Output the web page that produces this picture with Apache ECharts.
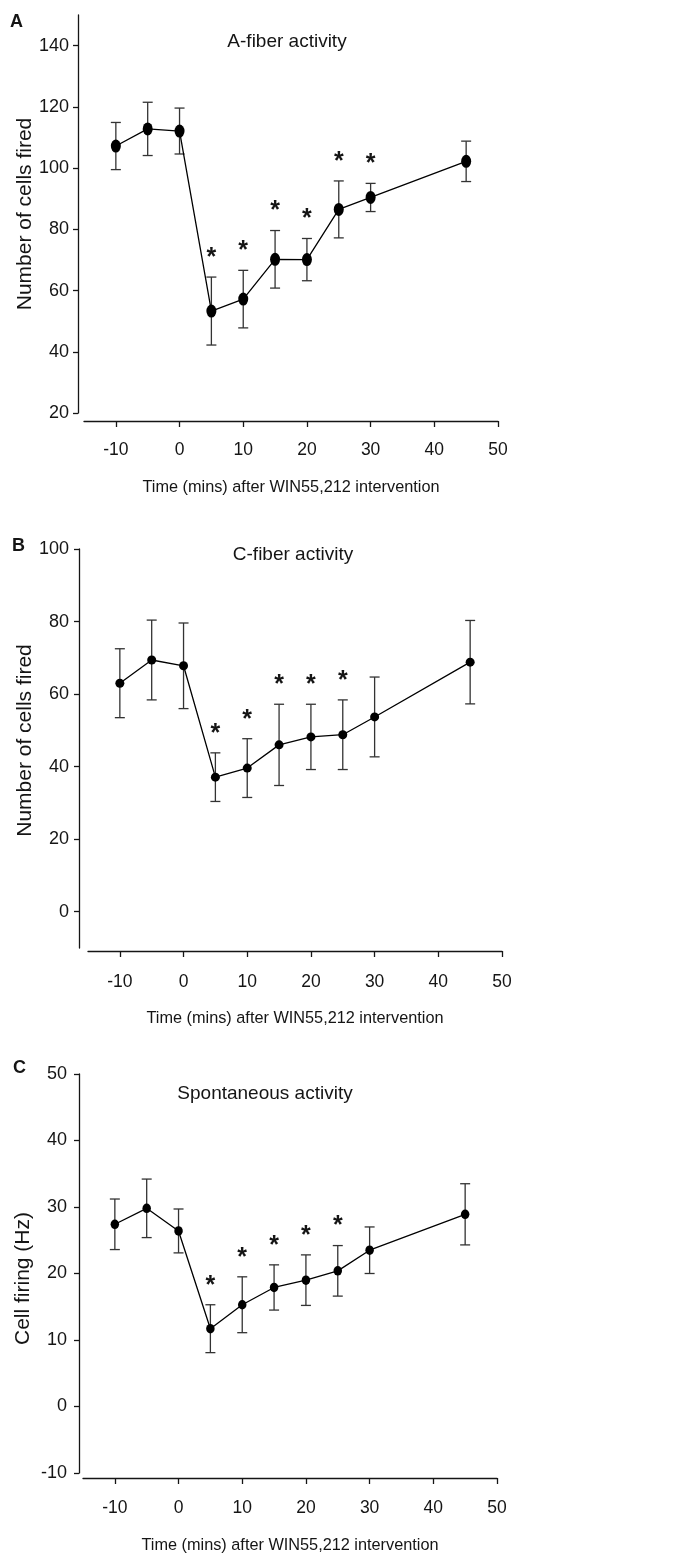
<!DOCTYPE html>
<html>
<head>
<meta charset="utf-8">
<title>WIN55,212 time course</title>
<script src="https://cdn.jsdelivr.net/npm/echarts@6.0.0/dist/echarts.min.js"></script>
<style>
  html, body { margin: 0; padding: 0; background: #fff; }
  #main { width: 700px; height: 1556px; }
</style>
</head>
<body>
<div id="main"></div>
<script>
// time points (mins after WIN55,212)
var times = [-10, -5, 0, 5, 10, 15, 20, 25, 30, 45];
var xTicks = [-10, 0, 10, 20, 30, 40, 50];

// A-fiber
var aMean = [107.2, 112.8, 112.1, 53.3, 57.2, 70.2, 70.1, 86.5, 90.4, 102.2];
var aErr = [7.7, 8.7, 7.5, 11.1, 9.4, 9.4, 6.9, 9.3, 4.6, 6.6];
var aStars = [5, 10, 15, 20, 25, 30];
var aTicks = [20, 40, 60, 80, 100, 120, 140];

// C-fiber
var bMean = [63.0, 69.4, 67.8, 37.1, 39.6, 46.0, 48.2, 48.8, 53.7, 68.8];
var bErr = [9.5, 11.0, 11.8, 6.7, 8.1, 11.2, 9.0, 9.6, 11.0, 11.5];
var bStars = [5, 10, 15, 20, 25];
var bTicks = [0, 20, 40, 60, 80, 100];

// spontaneous
var cMean = [27.4, 29.8, 26.4, 11.7, 15.3, 17.9, 19.0, 20.4, 23.5, 28.9];
var cErr = [3.8, 4.4, 3.3, 3.6, 4.2, 3.4, 3.8, 3.8, 3.5, 4.6];
var cStars = [5, 10, 15, 20, 25];
var cTicks = [-10, 0, 10, 20, 30, 40, 50];

var FONT = '"Liberation Sans", Arial, sans-serif';
var INK = '#151515';

var chart = echarts.init(document.getElementById('main'), null, { renderer: 'canvas' });

function errorBar(params, api) {
  var top = api.coord([api.value(0), api.value(2)]);
  var bot = api.coord([api.value(0), api.value(1)]);
  var w = 5;
  var st = { stroke: '#333', lineWidth: 1.3 };
  return {
    type: 'group',
    children: [
      { type: 'line', shape: { x1: top[0], y1: top[1], x2: bot[0], y2: bot[1] }, style: st },
      { type: 'line', shape: { x1: top[0] - w, y1: top[1], x2: top[0] + w, y2: top[1] }, style: st },
      { type: 'line', shape: { x1: bot[0] - w, y1: bot[1], x2: bot[0] + w, y2: bot[1] }, style: st }
    ]
  };
}

function star(params, api) {
  var p = api.coord([api.value(0), api.value(1)]);
  return {
    type: 'text',
    x: p[0],
    y: p[1] - 19,
    style: { text: '*', fontSize: 25, fontFamily: FONT, fontWeight: 'bold', fill: INK, align: 'center', verticalAlign: 'middle' }
  };
}

var grids = [], xAxes = [], yAxes = [], series = [];

function panel(i, box, mean, err, stars, yTicks, yMin, yMax, yName, dotSize) {
  grids.push({ left: box.left, right: box.right, top: box.top, bottom: box.bottom });
  xAxes.push({
    gridIndex: i, type: 'value', min: -15, max: 50, offset: box.xOff,
    name: 'Time (mins) after WIN55,212 intervention', nameLocation: 'middle', nameGap: box.xNameGap,
    nameMoveOverlap: false,
    nameTextStyle: { fontFamily: FONT, fontSize: 16.3, color: INK },
    axisLine: { onZero: false, lineStyle: { color: INK, width: 1.3 } },
    axisTick: { customValues: xTicks, length: 6, inside: false, lineStyle: { color: INK, width: 1.3 } },
    axisLabel: { customValues: xTicks, margin: box.xLabMargin, fontFamily: FONT, fontSize: 17.5, color: INK },
    splitLine: { show: false }
  });
  yAxes.push({
    gridIndex: i, type: 'value', min: yMin, max: yMax, offset: box.yOff,
    name: yName, nameLocation: 'middle', nameGap: box.yNameGap,
    nameMoveOverlap: false,
    nameTextStyle: { fontFamily: FONT, fontSize: 21, color: INK, padding: box.yNamePad },
    axisLine: { show: true, onZero: false, lineStyle: { color: INK, width: 1.3 } },
    axisTick: { show: true, customValues: yTicks, length: 5, lineStyle: { color: INK, width: 1.3 } },
    axisLabel: { customValues: yTicks, margin: box.yLabMargin, fontFamily: FONT, fontSize: 18, color: INK },
    splitLine: { show: false }
  });
  var bars = times.map(function (t, k) { return [t, mean[k] - err[k], mean[k] + err[k]]; });
  var pts = times.map(function (t, k) { return [t, mean[k]]; });
  var marks = stars.map(function (t) { var k = times.indexOf(t); return [t, mean[k] + err[k]]; });
  series.push({
    type: 'custom', xAxisIndex: i, yAxisIndex: i, renderItem: errorBar,
    encode: { x: 0, y: [1, 2] }, data: bars, z: 2, silent: true
  });
  series.push({
    type: 'line', xAxisIndex: i, yAxisIndex: i, data: pts, z: 3,
    symbol: 'circle', symbolSize: dotSize, showSymbol: true,
    itemStyle: { color: '#000' }, lineStyle: { color: '#000', width: 1.3 }
  });
  series.push({
    type: 'custom', xAxisIndex: i, yAxisIndex: i, renderItem: star,
    encode: { x: 0, y: 1 }, data: marks, z: 4, silent: true
  });
}

panel(0, { left: 84, right: 202, top: 15, bottom: 1143, xOff: 8, yOff: 6,
           xLabMargin: 20, yLabMargin: 9, xNameGap: 59, yNameGap: 42, yNamePad: 0 },
      aMean, aErr, aStars, aTicks, 20, 150, 'Number of cells fired', [10, 13]);
panel(1, { left: 88, right: 198, top: 549, bottom: 608, xOff: 3, yOff: 9,
           xLabMargin: 22, yLabMargin: 10, xNameGap: 60, yNameGap: 43, yNamePad: [0, 0, 0, 16] },
      bMean, bErr, bStars, bTicks, -10, 100, 'Number of cells fired', 9);
panel(2, { left: 83, right: 203, top: 1074, bottom: 83, xOff: 5, yOff: 4,
           xLabMargin: 21, yLabMargin: 12, xNameGap: 60, yNameGap: 45, yNamePad: [0, 10, 0, 0] },
      cMean, cErr, cStars, cTicks, -10, 50, 'Cell firing (Hz)', [8.5, 9.5]);

function label(text, x, y, size, bold) {
  return {
    type: 'text', x: x, y: y,
    style: { text: text, fontFamily: FONT, fontSize: size, fontWeight: bold ? 'bold' : 'normal',
             fill: INK, align: bold ? 'left' : 'center', verticalAlign: 'middle' }
  };
}

chart.setOption({
  animation: false,
  backgroundColor: '#fff',
  grid: grids,
  xAxis: xAxes,
  yAxis: yAxes,
  series: series,
  graphic: [
    label('A', 10, 22, 18, true),
    label('A-fiber activity', 287, 42, 19, false),
    label('B', 12, 546, 18, true),
    label('C-fiber activity', 293, 555, 19, false),
    label('C', 13, 1068, 18, true),
    label('Spontaneous activity', 265, 1094, 19, false)
  ]
});
</script>
</body>
</html>
